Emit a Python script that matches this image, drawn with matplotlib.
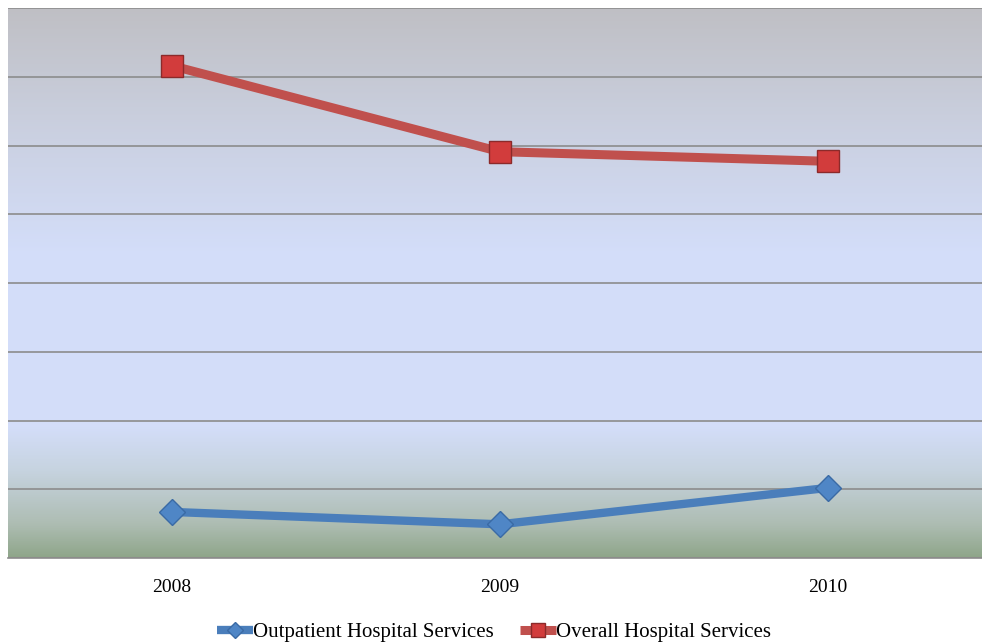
import matplotlib.pyplot as plt
import numpy as np
from matplotlib.colors import LinearSegmentedColormap

# Data (arbitrary units: one gridline = 1)
years = ['2008', '2009', '2010']
outpatient = [0.67, 0.49, 1.02]
overall = [7.16, 5.91, 5.77]

plt.rcParams['font.family'] = ['Liberation Serif', 'DejaVu Serif']

fig = plt.figure(figsize=(9.82, 6.44), dpi=100)
ax = fig.add_axes([8 / 982, 1 - 558 / 644, 984 / 982, 550 / 644])

# background gradient: gray top, light blue middle, green bottom
bg = LinearSegmentedColormap.from_list('bg', [
    (0.0, (0.56, 0.65, 0.54)),
    (0.06, (0.68, 0.74, 0.70)),
    (0.16, (0.78, 0.83, 0.88)),
    (0.24, (0.83, 0.87, 0.98)),
    (0.55, (0.83, 0.87, 0.98)),
    (0.80, (0.79, 0.81, 0.87)),
    (1.0, (0.75, 0.75, 0.77)),
])
grad = np.linspace(0, 1, 256).reshape(-1, 1)
ax.imshow(grad, cmap=bg, origin='lower', aspect='auto',
          extent=[-0.5, 2.5, 0, 8], zorder=0)

x = np.arange(len(years))
ax.plot(x, outpatient, color='#4a7ebb', lw=6, marker='D', ms=13,
        mfc='#4f86c6', mec='#3a6aa5', mew=1, label='Outpatient Hospital Services',
        zorder=3, solid_capstyle='butt')
ax.plot(x, overall, color='#c0504d', lw=6.5, marker='s', ms=15.5,
        mfc='#d23c3c', mec='#8c2a2a', mew=1, label='Overall Hospital Services',
        zorder=3, solid_capstyle='butt')

ax.set_xlim(-0.5, 2.5)
ax.set_ylim(0, 8)
ax.set_yticks(np.arange(0, 9, 1))
ax.yaxis.grid(True, color='#8c8c8c', lw=1.2)
ax.set_axisbelow(False)
for line in ax.get_ygridlines():
    line.set_zorder(1)
ax.tick_params(axis='y', left=False, labelleft=False)
ax.set_xticks(x)
ax.set_xticklabels(years, fontsize=14)
ax.tick_params(axis='x', length=0, pad=15)
for s in ['left', 'right', 'top']:
    ax.spines[s].set_visible(False)
ax.spines['bottom'].set_color('#8c8c8c')
ax.spines['bottom'].set_linewidth(1.2)

fig.legend(loc='lower center', bbox_to_anchor=(0.503, -0.026), ncol=2,
           frameon=False, fontsize=15, handlelength=1.7, handletextpad=0.0,
           columnspacing=1.3, markerscale=0.65)

fig.savefig('out.png', dpi=100)
